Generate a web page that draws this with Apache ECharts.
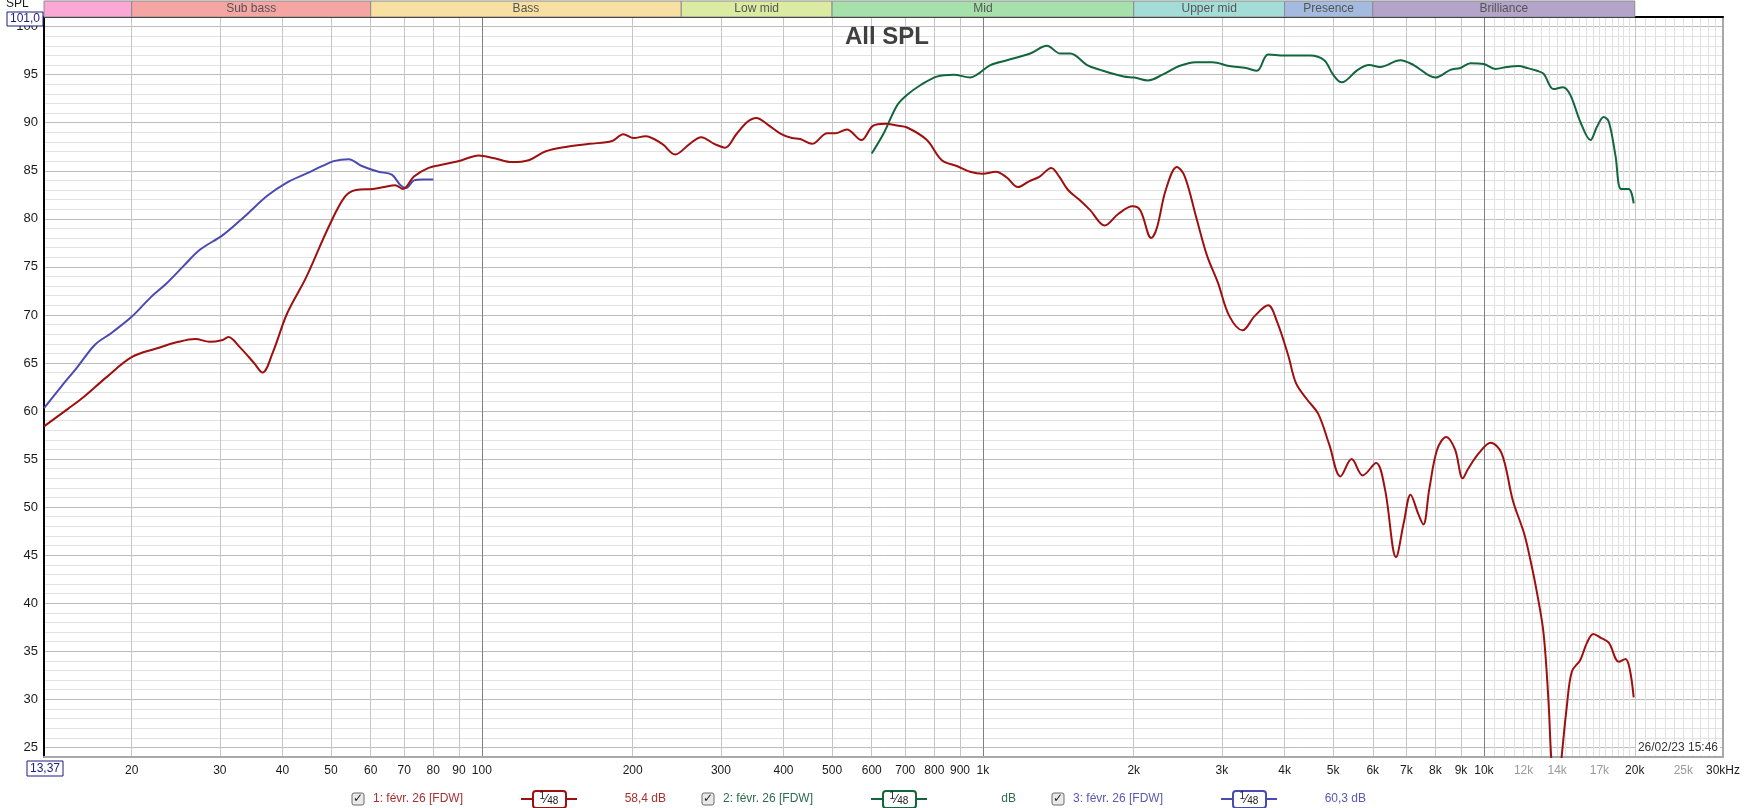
<!DOCTYPE html>
<html>
<head>
<meta charset="utf-8">
<title>All SPL</title>
<script src="https://cdn.jsdelivr.net/npm/echarts@6/dist/echarts.min.js"></script>
<style>
html, body { margin: 0; padding: 0; background: #fff; }
#chart { width: 1744px; height: 808px; }
</style>
</head>
<body>
<div id="chart"></div>
<script>
// 1: févr. 26 [FDW]  (red)
const freq1 = [13.37, 14.9, 16.0, 17.8, 20, 22.4, 24.8, 26.8, 28.6, 30.4, 31.2, 32.8, 35.1, 36.5, 38.2, 40.9, 44.6, 49.4, 53.3, 56.1,
  60.6, 63.8, 67.1, 69.6, 73.2, 78.3, 84.5, 91.2, 98.5, 106, 114.8, 124, 133.8, 148, 164, 182, 191.5, 201, 212, 229,
  243, 260, 274, 291, 306, 322, 339, 353, 372, 396, 416, 432, 456, 489, 507, 535, 572, 604, 638, 674,
  706, 773, 828, 887, 943, 1000, 1061, 1116, 1175, 1236, 1298, 1369, 1420, 1479, 1556, 1637, 1750, 1862, 1989, 2061,
  2168, 2226, 2317, 2439, 2529, 2661, 2800, 2947, 3102, 3298, 3489, 3710, 3864, 4067, 4216, 4436, 4670, 4913, 5172, 5444,
  5730, 6092, 6344, 6677, 6920, 7138, 7394, 7570, 7780, 8066, 8406, 8755, 9073, 9300, 9797, 10310, 10850, 11420, 12020, 12380,
  12760, 13150, 13450, 13620, 13900, 14290, 14630, 14980, 15570, 16060, 16530, 17110, 17750, 18590, 19170, 19550, 19900];
const spl1 = [58.4, 60.2, 61.4, 63.5, 65.6, 66.5, 67.2, 67.5, 67.2, 67.4, 67.7, 66.7, 65.0, 64.0, 66.0, 70.2, 73.9, 79.1, 82.3, 83.0,
  83.1, 83.3, 83.5, 83.1, 84.4, 85.3, 85.7, 86.1, 86.6, 86.3, 85.9, 86.1, 87.0, 87.5, 87.8, 88.1, 88.8, 88.4, 88.6, 87.8,
  86.7, 87.8, 88.5, 87.8, 87.4, 88.8, 90.1, 90.5, 89.8, 88.8, 88.4, 88.3, 87.8, 88.9, 88.9, 89.3, 88.2, 89.7, 89.9, 89.7,
  89.5, 88.2, 86.1, 85.5, 84.9, 84.7, 84.9, 84.3, 83.3, 83.9, 84.4, 85.3, 84.4, 83.0, 82.0, 80.9, 79.3, 80.5, 81.3, 80.9,
  78.0, 79.1, 83.0, 85.4, 84.4, 80.3, 76.2, 73.3, 69.9, 68.4, 69.9, 71.0, 69.3, 65.8, 62.9, 61.2, 59.7, 56.5, 53.2, 55.0,
  53.3, 54.6, 51.9, 44.8, 48.4, 51.3, 49.3, 48.2, 51.9, 56.0, 57.3, 56.0, 53.0, 54.0, 55.7, 56.7, 55.6, 50.7, 47.3, 44.5,
  41.1, 36.9, 29.9, 24.0, 18.0, 24.0, 29.2, 32.9, 34.1, 35.9, 36.8, 36.4, 35.9, 33.9, 34.2, 33.1, 30.2];

// 2: févr. 26 [FDW]  (green)
const freq2 = [600, 634, 674, 706, 750, 809, 874, 944, 973, 1035, 1117, 1243, 1342, 1427, 1494, 1614, 1715, 1909, 2007, 2136,
  2283, 2465, 2661, 2872, 3102, 3349, 3523, 3710, 4000, 4500, 4800, 5000, 5200, 5600, 5900, 6200, 6808, 7240, 8000, 8570,
  8975, 9400, 9990, 10540, 11120, 11730, 12190, 12760, 13150, 13770, 14380, 14870, 15570, 16310, 16820, 17340, 17750, 18300, 18780, 19450,
  19900];
const spl2 = [86.8, 88.9, 91.8, 92.9, 93.9, 94.8, 95.0, 94.7, 95.0, 96.0, 96.5, 97.2, 98.0, 97.2, 97.2, 96.0, 95.5, 94.8, 94.7, 94.4,
  95.0, 95.9, 96.3, 96.3, 95.9, 95.7, 95.4, 97.1, 97.0, 97.0, 96.5, 95.0, 94.2, 95.5, 96.0, 95.8, 96.5, 96.0, 94.7, 95.5,
  95.7, 96.2, 96.1, 95.6, 95.8, 95.9, 95.7, 95.4, 95.1, 93.5, 93.7, 92.9, 90.1, 88.2, 89.6, 90.6, 90.1, 86.6, 83.1, 83.1,
  81.6];

// 3: févr. 26 [FDW]  (blue)
const freq3 = [13.37, 14.5, 15.6, 16.9, 18.2, 20, 21.8, 23.5, 25.4, 27.4, 30.4, 33.7, 37.3, 40.9, 44.6, 48.1, 50.6, 54.2, 57.6, 62.2,
  66.1, 68.8, 70.6, 73.2, 76.3, 80];
const spl3 = [60.3, 62.6, 64.6, 66.9, 68.1, 69.8, 71.8, 73.3, 75.1, 76.8, 78.3, 80.3, 82.4, 83.8, 84.7, 85.5, 86.0, 86.2, 85.5, 84.9,
  84.6, 83.5, 83.2, 84.0, 84.1, 84.1];

// frequency bands drawn above the plot
const bandNames = ['', 'Sub bass', 'Bass', 'Low mid', 'Mid', 'Upper mid', 'Presence', 'Brilliance'];
const bandEdges = [13.37, 20, 60, 250, 500, 2000, 4000, 6000, 20000];
const bandColors = ['#fba8d6', '#f5a5a2', '#f8e0a2', '#dbeba2', '#a6e1ab', '#a4ddd7', '#a5badf', '#b4a4ca'];

// axis ticks
const xDecades = [100, 1000, 10000];
const xMain = [20, 30, 40, 50, 60, 70, 80, 90, 200, 300, 400, 500, 600, 700, 800, 900,
  2000, 3000, 4000, 5000, 6000, 7000, 8000, 9000, 20000];
const xFine = [10500, 11000, 11500, 12000, 12500, 13000, 13500, 14000, 14500, 15000, 15500, 16000, 16500, 17000,
  17500, 18000, 18500, 19000, 19500, 21000, 22000, 23000, 24000, 25000, 26000, 27000, 28000, 29000];
const xLabels = [20, 30, 40, 50, 60, 70, 80, 90, 100, 200, 300, 400, 500, 600, 700, 800, 900, 1000,
  2000, 3000, 4000, 5000, 6000, 7000, 8000, 9000, 10000, 12000, 14000, 17000, 20000, 25000, 30000];
const xGreyLabels = [12000, 14000, 17000, 25000];
const yLabels = [25, 30, 35, 40, 45, 50, 55, 60, 65, 70, 75, 80, 85, 90, 95, 100];

const legendNames = ['1: févr. 26 [FDW]', '2: févr. 26 [FDW]', '3: févr. 26 [FDW]'];
const legendValues = ['58,4 dB', 'dB', '60,3 dB'];

const lg = Math.log10;
const X_MIN = lg(13.37), X_MAX = lg(30000);
const FONT = '"Liberation Sans", Arial, sans-serif';
const lineColors = ['#9e1010', '#12663e', '#4a4ab0'];
const textColors = ['#a83030', '#2a6e4c', '#5858b4'];

function fmtFreq(v) {
  const f = Math.round(Math.pow(10, v));
  if (f === 30000) return '30kHz';
  const s = f < 1000 ? String(f) : (f / 1000) + 'k';
  return xGreyLabels.indexOf(f) >= 0 ? '{g|' + s + '}' : s;
}

function xAxisOf(ticks, color, width, extra) {
  return Object.assign({
    type: 'value', gridIndex: 0, min: X_MIN, max: X_MAX, position: 'bottom',
    axisLine: { show: false, onZero: false },
    axisTick: { show: false, customValues: ticks.map(lg) },
    axisLabel: { show: false },
    splitLine: { show: true, lineStyle: { color: color, width: width } }
  }, extra || {});
}

const chart = echarts.init(document.getElementById('chart'), null, { renderer: 'canvas' });

const legendGraphics = [];
legendNames.forEach((name, i) => {
  const x0 = 352 + i * 350, cy = 799;
  legendGraphics.push(
    { type: 'rect', shape: { x: x0, y: cy - 6, width: 12, height: 12, r: 2 },
      style: { fill: '#e9e9e9', stroke: '#6a6a6a', lineWidth: 1 }, z: 100 },
    { type: 'text', x: x0 + 6, y: cy, z: 101,
      style: { text: '✓', font: 'bold 12px "DejaVu Sans"', fill: '#1a1a1a', align: 'center', verticalAlign: 'middle' } },
    { type: 'text', x: x0 + 21, y: cy, z: 100,
      style: { text: name, font: '12px ' + FONT, fill: textColors[i], align: 'left', verticalAlign: 'middle' } },
    { type: 'line', shape: { x1: x0 + 169, y1: cy, x2: x0 + 225, y2: cy },
      style: { stroke: lineColors[i], lineWidth: 2 }, z: 100 },
    { type: 'rect', shape: { x: x0 + 181, y: cy - 8, width: 33, height: 17, r: 3 },
      style: { fill: '#fff', stroke: lineColors[i], lineWidth: 2 }, z: 101 },
    { type: 'text', x: x0 + 197, y: cy, z: 102,
      style: { text: '{a|1}{s|⁄}{b|48}', align: 'center', verticalAlign: 'middle',
        rich: {
          a: { font: '10px ' + FONT, fill: '#222', verticalAlign: 'top', padding: [0, 0, 4, 0] },
          s: { font: '13px ' + FONT, fill: '#222' },
          b: { font: '10px ' + FONT, fill: '#222', padding: [5, 0, 0, 0] }
        } } },
    { type: 'text', x: x0 + 314, y: cy, z: 100,
      style: { text: legendValues[i], font: '12px ' + FONT, fill: textColors[i], align: 'right', verticalAlign: 'middle' } }
  );
});

chart.setOption({
  backgroundColor: '#fff',
  animation: false,
  title: {
    text: 'All SPL', left: 840, top: 20,
    textStyle: { fontFamily: FONT, fontSize: 24, fontWeight: 'bold', color: '#404040' }
  },
  grid: [
    { left: 44, top: 17, width: 1679, height: 740 },
    { left: 44, top: 1, width: 1679, height: 16 }
  ],
  xAxis: [
    xAxisOf(xFine, '#e0e0e0', 1),
    xAxisOf(xMain, '#c6c6c6', 1, {
      axisLine: { show: true, onZero: false, lineStyle: { color: '#a8a8a8', width: 2 } },
      axisLabel: {
        show: true, customValues: xLabels.map(lg), margin: 8, formatter: fmtFreq,
        color: '#1a1a1a', fontFamily: FONT, fontSize: 12,
        rich: { g: { color: '#9a9a9a', fontFamily: FONT, fontSize: 12 } }
      }
    }),
    xAxisOf(xDecades, '#808080', 1),
    xAxisOf([], '#000', 1, {
      position: 'top', splitLine: { show: false },
      axisLine: { show: true, onZero: false, lineStyle: { color: '#000', width: 2 } }
    }),
    { type: 'value', gridIndex: 1, min: X_MIN, max: X_MAX, show: false }
  ],
  yAxis: [
    { type: 'value', gridIndex: 0, min: 24, max: 101, interval: 1, position: 'left',
      axisLine: { show: false }, axisTick: { show: false }, axisLabel: { show: false },
      splitLine: { show: true, lineStyle: { color: '#e2e2e2', width: 1 } } },
    { type: 'value', gridIndex: 0, min: 24, max: 101, position: 'left',
      axisLine: { show: true, onZero: false, lineStyle: { color: '#000', width: 2 } },
      axisTick: { show: false, customValues: yLabels },
      axisLabel: { show: true, customValues: yLabels, margin: 6, color: '#1a1a1a', fontFamily: FONT, fontSize: 13 },
      splitLine: { show: true, lineStyle: { color: '#bdbdbd', width: 1 } } },
    { type: 'value', gridIndex: 0, min: 24, max: 101, position: 'right',
      axisLine: { show: true, onZero: false, lineStyle: { color: '#a8a8a8', width: 2 } },
      axisTick: { show: false }, axisLabel: { show: false }, splitLine: { show: false } },
    { type: 'value', gridIndex: 1, min: 0, max: 1, show: false }
  ],
  series: [
    {
      type: 'custom', xAxisIndex: 4, yAxisIndex: 3, silent: true,
      data: bandNames.map((n, i) => [lg(bandEdges[i]), lg(bandEdges[i + 1]), i]),
      renderItem: (params, api) => {
        const a = api.coord([api.value(0), 1]);
        const b = api.coord([api.value(1), 0]);
        const i = api.value(2);
        return {
          type: 'rect',
          shape: { x: a[0], y: a[1], width: b[0] - a[0], height: b[1] - a[1] },
          style: { fill: bandColors[i], stroke: '#8c8c8c', lineWidth: 1 },
          textContent: { style: { text: bandNames[i], fill: '#555', font: '12px ' + FONT } },
          textConfig: { position: 'inside' }
        };
      }
    },
    {
      name: legendNames[2], type: 'line', xAxisIndex: 1, yAxisIndex: 1,
      data: freq3.map((f, i) => [lg(f), spl3[i]]),
      showSymbol: false, smooth: 0.35, clip: true,
      lineStyle: { color: lineColors[2], width: 2 }, itemStyle: { color: lineColors[2] }
    },
    {
      name: legendNames[1], type: 'line', xAxisIndex: 1, yAxisIndex: 1,
      data: freq2.map((f, i) => [lg(f), spl2[i]]),
      showSymbol: false, smooth: 0.35, clip: true,
      lineStyle: { color: lineColors[1], width: 2 }, itemStyle: { color: lineColors[1] }
    },
    {
      name: legendNames[0], type: 'line', xAxisIndex: 1, yAxisIndex: 1,
      data: freq1.map((f, i) => [lg(f), spl1[i]]),
      showSymbol: false, smooth: 0.35, clip: true,
      lineStyle: { color: lineColors[0], width: 2 }, itemStyle: { color: lineColors[0] }
    }
  ],
  graphic: [
    { type: 'text', x: 6, y: -2, z: 100,
      style: { text: 'SPL', font: '12px ' + FONT, fill: '#1a1a1a' } },
    { type: 'rect', shape: { x: 7, y: 12, width: 36, height: 14 }, z: 100,
      style: { fill: '#fff', stroke: '#1d1d7c', lineWidth: 1 } },
    { type: 'text', x: 25, y: 19, z: 101,
      style: { text: '101,0', font: '12px ' + FONT, fill: '#1d1d7c', align: 'center', verticalAlign: 'middle' } },
    { type: 'rect', shape: { x: 27, y: 761, width: 36, height: 15 }, z: 100,
      style: { fill: '#fff', stroke: '#1d1d7c', lineWidth: 1 } },
    { type: 'text', x: 45, y: 768.5, z: 101,
      style: { text: '13,37', font: '12px ' + FONT, fill: '#1d1d7c', align: 'center', verticalAlign: 'middle' } },
    { type: 'text', x: 1720, y: 748, z: 100,
      style: { text: '26/02/23 15:46', font: '12px ' + FONT, fill: '#333', align: 'right', verticalAlign: 'middle',
        backgroundColor: '#fff', padding: [1, 2, 1, 2] } }
  ].concat(legendGraphics)
});
</script>
</body>
</html>
